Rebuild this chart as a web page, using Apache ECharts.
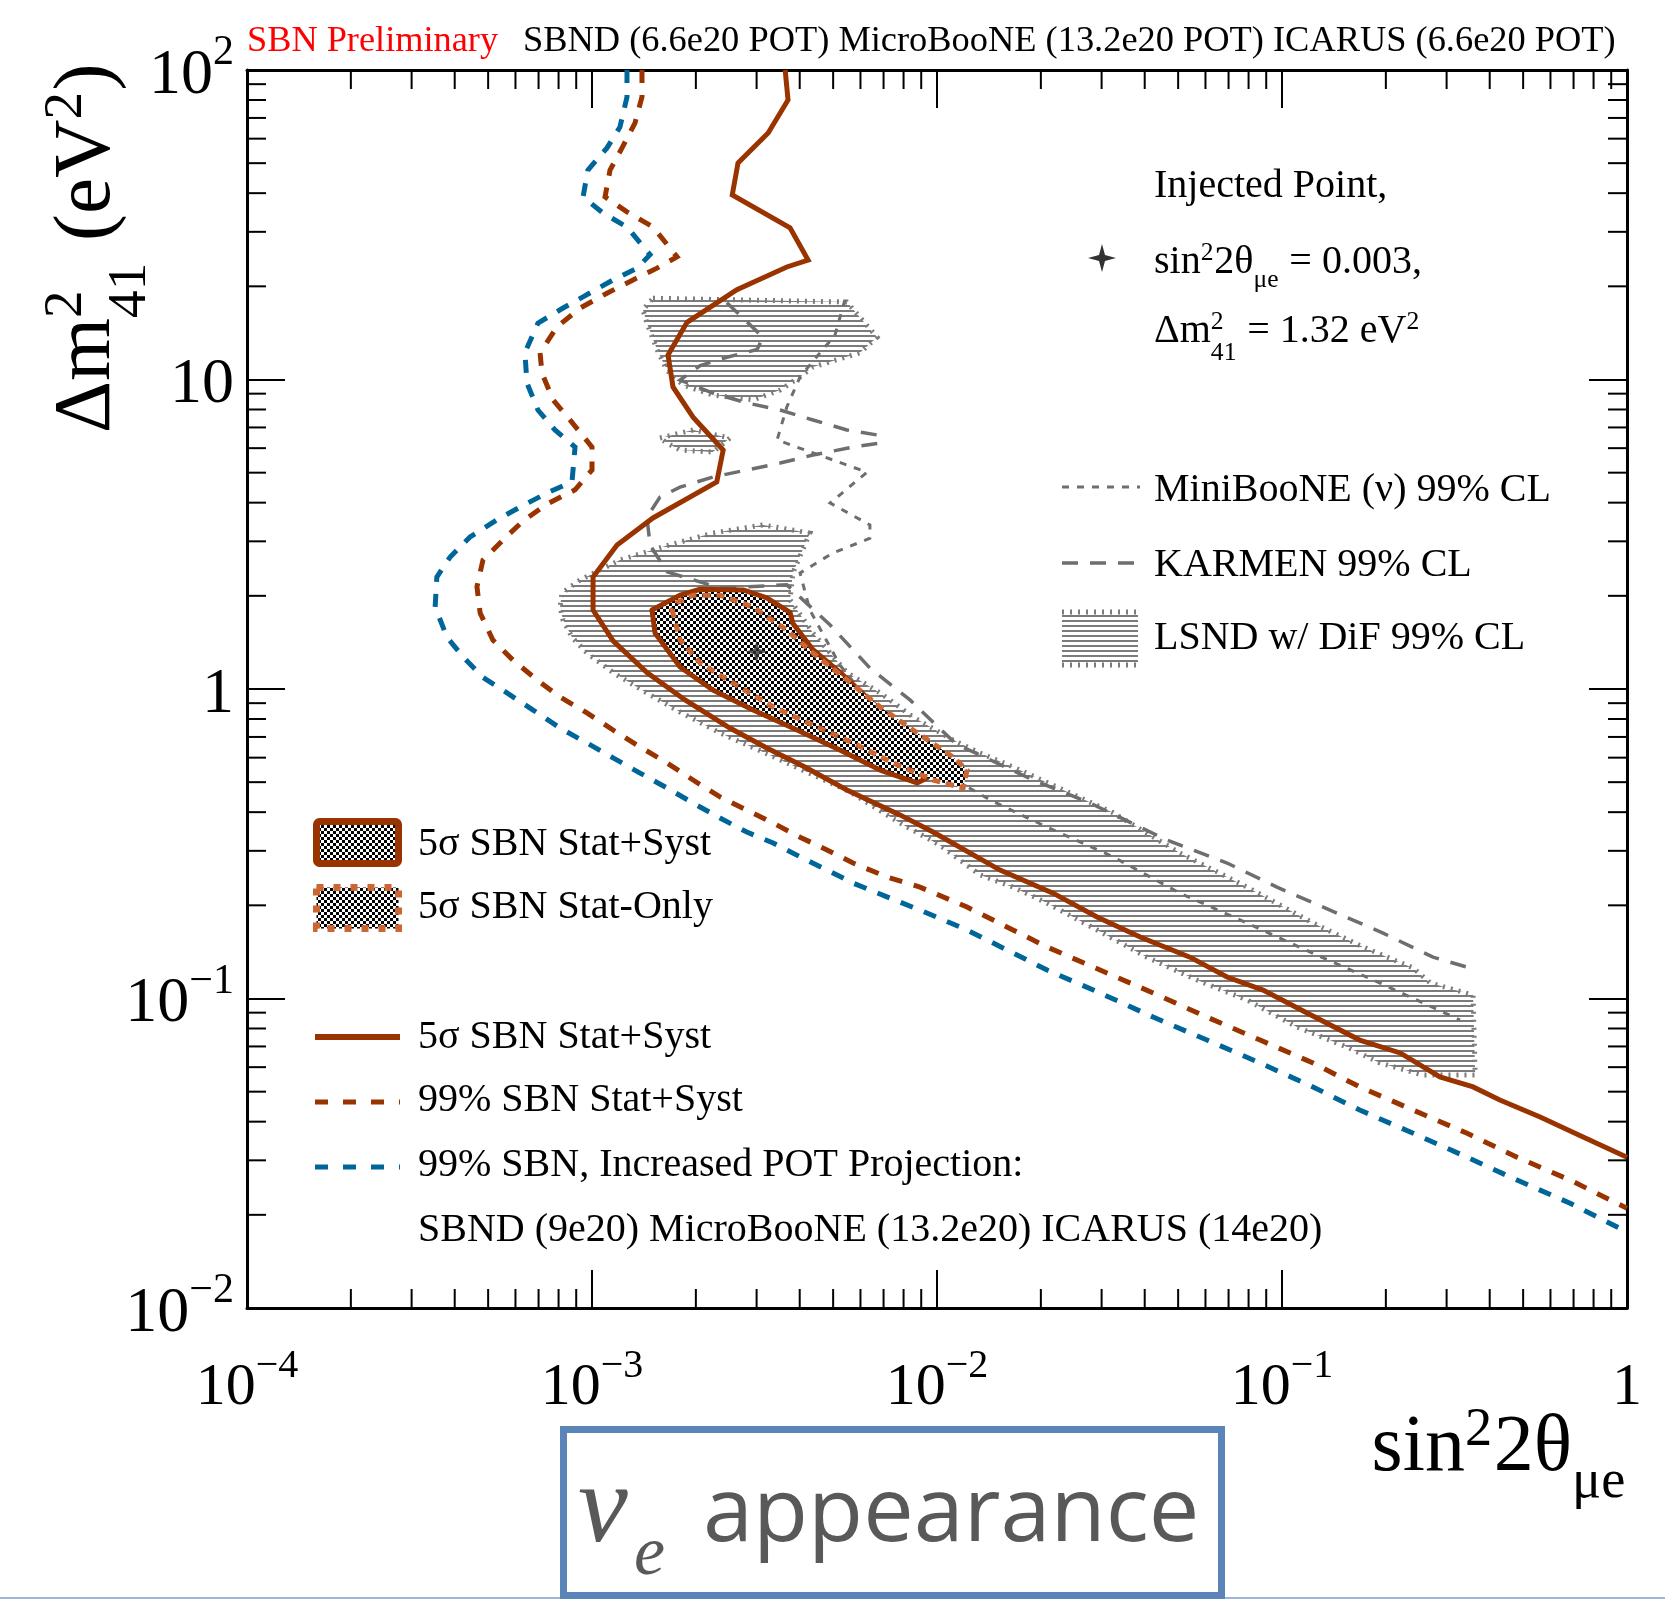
<!DOCTYPE html>
<html><head><meta charset="utf-8">
<script src="https://cdn.jsdelivr.net/npm/echarts@6/dist/echarts.min.js"></script>
<style>html,body{margin:0;padding:0;background:#fff;}#c{width:1665px;height:1599px;}</style>
</head><body><div id="c"></div>
<script>
const SERIF = "'Liberation Serif','Times New Roman',serif";
const BROWN = '#993300', ORANGE = '#cc6633', BLUE = '#006699', GRAY = '#6e6e6e', HGRAY = '#7b7b7b';

// ---------------- data (sin^2 2theta, dm^2) ----------------
const blue99Increased = [[1.263e-3,100],[1.263e-3,81.8],[1.205e-3,65.4],[1.105e-3,56.0],[9.73e-4,47.5],[9.42e-4,38.9],[1.076e-3,34.5],[1.263e-3,31.1],[1.473e-3,25.3],[1.351e-3,22.9],[1.151e-3,20.97],[9.42e-4,18.5],[8.08e-4,16.8],[6.97e-4,15.2],[6.39e-4,12.2],[6.48e-4,9.74],[6.97e-4,7.97],[7.81e-4,6.87],[8.93e-4,6.05],[8.75e-4,4.67],[7.41e-4,4.30],[6.18e-4,3.87],[5.30e-4,3.52],[4.43e-4,3.10],[3.88e-4,2.67],[3.55e-4,2.30],[3.51e-4,1.84],[3.80e-4,1.47],[4.23e-4,1.27],[4.83e-4,1.09],[5.67e-4,0.971],[6.75e-4,0.855],[8.08e-4,0.748],[9.67e-4,0.669],[1.151e-3,0.599],[1.378e-3,0.535],[1.650e-3,0.479],[1.963e-3,0.428],[2.35e-3,0.383],[2.81e-3,0.345],[3.35e-3,0.318],[4.01e-3,0.287],[4.80e-3,0.260],[5.71e-3,0.236],[7.16e-3,0.213],[8.93e-3,0.193],[1.222e-2,0.1665],[2.084e-2,0.1236],[2.97e-2,0.1042],[4.23e-2,0.0871],[6.06e-2,0.0734],[8.64e-2,0.0619],[0.123,0.0518],[0.168,0.0436],[0.240,0.0367],[0.344,0.0307],[0.480,0.0259],[0.684,0.0218],[1,0.0176]];

const brown99StatSyst = [[1.396e-3,100],[1.396e-3,81.8],[1.332e-3,67.4],[1.222e-3,56.0],[1.128e-3,47.5],[1.091e-3,38.9],[1.263e-3,34.8],[1.502e-3,31.1],[1.764e-3,24.9],[1.543e-3,22.9],[1.315e-3,20.97],[1.105e-3,19.0],[9.23e-4,17.0],[7.92e-4,14.8],[7.07e-4,12.2],[7.16e-4,10.5],[7.71e-4,8.59],[8.63e-4,7.40],[1.0e-3,6.05],[1.0e-3,5.10],[8.93e-4,4.40],[7.41e-4,3.96],[6.31e-4,3.49],[5.52e-4,3.03],[4.83e-4,2.61],[4.64e-4,2.14],[4.74e-4,1.76],[5.16e-4,1.44],[5.90e-4,1.24],[6.93e-4,1.07],[8.08e-4,0.942],[9.67e-4,0.837],[1.151e-3,0.737],[1.378e-3,0.650],[1.650e-3,0.577],[1.963e-3,0.508],[2.35e-3,0.448],[2.81e-3,0.406],[3.35e-3,0.369],[4.01e-3,0.332],[4.80e-3,0.302],[5.71e-3,0.274],[7.16e-3,0.247],[8.93e-3,0.229],[1.222e-2,0.1975],[2.084e-2,0.1467],[2.97e-2,0.1236],[4.23e-2,0.1042],[6.06e-2,0.0871],[8.64e-2,0.0734],[0.123,0.0619],[0.168,0.0518],[0.240,0.0436],[0.344,0.0367],[0.480,0.0307],[0.684,0.0259],[1,0.0210]];

const solid5sigma = [[3.63e-3,100],[3.70e-3,80.0],[3.24e-3,62.6],[2.65e-3,50.1],[2.55e-3,39.5],[3.75e-3,30.9],[4.23e-3,24.3],[3.67e-3,23.1],[2.63e-3,19.5],[1.886e-3,15.3],[1.661e-3,12.0],[1.717e-3,9.46],[1.963e-3,7.56],[2.40e-3,5.92],[2.30e-3,4.67],[1.502e-3,3.57],[1.182e-3,2.92],[1.007e-3,2.30],[1.007e-3,1.80],[1.151e-3,1.43],[1.443e-3,1.13],[1.861e-3,0.922],[2.51e-3,0.748],[3.21e-3,0.645],[4.14e-3,0.560],[5.48e-3,0.472],[7.81e-3,0.392],[9.74e-3,0.345],[1.523e-2,0.260],[2.17e-2,0.219],[2.91e-2,0.1834],[3.88e-2,0.158],[5.41e-2,0.136],[6.93e-2,0.1173],[8.81e-2,0.1065],[0.1182,0.0898],[0.168,0.0734],[0.220,0.0667],[0.287,0.0558],[0.358,0.0518],[0.428,0.0470],[0.560,0.0414],[0.746,0.0357],[1,0.0307]];

const region5sigmaSyst = [[1.492e-3,1.80],[1.523e-3,1.517],[1.80e-3,1.178],[2.24e-3,0.993],[2.93e-3,0.855],[3.93e-3,0.737],[5.23e-3,0.635],[6.84e-3,0.547],[8.75e-3,0.497],[9.35e-3,0.516],[8.08e-3,0.710],[6.61e-3,0.888],[5.34e-3,1.11],[4.37e-3,1.34],[3.82e-3,1.63],[3.75e-3,1.77],[3.21e-3,1.97],[2.74e-3,2.09],[2.06e-3,2.10],[1.80e-3,2.01]];

const region5sigmaStat = [[1.706e-3,1.80],[1.80e-3,1.44],[2.06e-3,1.213],[2.56e-3,1.046],[3.35e-3,0.875],[4.37e-3,0.765],[5.71e-3,0.669],[7.46e-3,0.577],[9.74e-3,0.508],[1.190e-2,0.479],[1.222e-2,0.547],[1.113e-2,0.603],[8.52e-3,0.737],[6.84e-3,0.875],[5.48e-3,1.07],[4.37e-3,1.307],[3.67e-3,1.55],[2.93e-3,1.84],[2.35e-3,2.01],[1.963e-3,2.01],[1.764e-3,1.90]];

const lsndIsland1 = [[1.502e-3,18.3],[5.48e-3,17.8],[6.70e-3,13.7],[5.98e-3,12.2],[4.37e-3,10.98],[4.01e-3,10.2],[3.51e-3,9.25],[2.93e-3,8.59],[2.24e-3,8.91],[1.836e-3,9.60],[1.650e-3,10.7],[1.543e-3,12.5],[1.443e-3,15.2],[1.405e-3,16.8]];
const lsndIsland2 = [[1.574e-3,6.47],[1.963e-3,6.87],[2.51e-3,6.47],[2.24e-3,5.83],[1.80e-3,5.92],[1.650e-3,6.23]];
const lsndMain = [[4.28e-3,3.19],[3.13e-3,3.39],[2.24e-3,3.19],[1.606e-3,2.88],[1.205e-3,2.61],[9.23e-4,2.25],[8.18e-4,2.04],[8.08e-4,1.84],[8.24e-4,1.67],[8.75e-4,1.47],[9.67e-4,1.307],[1.151e-3,1.13],[1.443e-3,0.971],[1.80e-3,0.843],[2.35e-3,0.721],[3.13e-3,0.626],[4.20e-3,0.539],[5.60e-3,0.465],[7.81e-3,0.369],[1.020e-2,0.313],[1.332e-2,0.251],[1.661e-2,0.229],[2.084e-2,0.2035],[2.91e-2,0.1665],[4.06e-2,0.136],[5.67e-2,0.1147],[7.92e-2,0.0989],[0.1105,0.0809],[0.1543,0.0697],[0.1924,0.0619],[0.256,0.0566],[0.363,0.0566],[0.358,0.1026],[0.269,0.1122],[0.240,0.1255],[0.1717,0.1467],[0.123,0.1753],[7.92e-2,0.229],[5.06e-2,0.295],[3.24e-2,0.398],[2.32e-2,0.472],[1.661e-2,0.560],[1.332e-2,0.621],[1.113e-2,0.684],[8.52e-3,0.812],[6.84e-3,0.971],[5.48e-3,1.13],[4.37e-3,1.517],[3.75e-3,1.94],[3.82e-3,2.37]];

const miniBooNE = [[5.41e-3,18.1],[5.06e-3,13.9],[4.58e-3,12.2],[4.01e-3,10.2],[3.67e-3,8.15],[3.44e-3,6.38],[4.37e-3,5.79],[6.27e-3,5.02],[4.90e-3,3.99],[6.39e-3,3.39],[6.39e-3,3.07],[4.99e-3,2.75],[4.01e-3,2.37],[4.28e-3,1.80],[5.23e-3,1.195],[6.84e-3,0.824],[9.54e-3,0.568],[1.424e-2,0.438],[2.084e-2,0.358],[3.24e-2,0.287],[5.06e-2,0.219],[7.92e-2,0.1753],[0.123,0.140],[0.1924,0.1122],[0.328,0.0852]];

const karmen = [[2.46e-3,17.7],[3.13e-3,13.7],[3.01e-3,12.5],[2.46e-3,11.8],[2.06e-3,11.1],[1.80e-3,9.96],[2.24e-3,9.04],[2.81e-3,8.40],[3.51e-3,7.97],[4.37e-3,7.40],[5.48e-3,6.87],[6.70e-3,6.62],[6.84e-3,6.23],[5.71e-3,6.05],[4.37e-3,5.70],[3.51e-3,5.37],[2.81e-3,5.10],[2.24e-3,4.84],[1.80e-3,4.49],[1.574e-3,4.17],[1.443e-3,3.59],[1.473e-3,2.92],[1.650e-3,2.39],[2.35e-3,2.12],[3.67e-3,2.17],[4.90e-3,1.61],[6.39e-3,1.169],[8.35e-3,0.922],[1.135e-2,0.664],[1.332e-2,0.612],[1.898e-2,0.508],[2.78e-2,0.428],[4.64e-2,0.325],[6.93e-2,0.274],[9.67e-2,0.229],[0.1378,0.193],[0.1963,0.1627],[0.274,0.136],[0.351,0.1255]];

const injectedPoint = [[0.003, 1.32]];

// axis ranges / ticks
const X_MIN = 1e-4, X_MAX = 1, Y_MIN = 1e-2, Y_MAX = 1e2;
const xDecades = [-4, -3, -2, -1];
const yDecades = [-2, -1, 0, 1];
const minorMultipliers = [2, 3, 4, 5, 6, 7, 8, 9];

// ---------------- helpers ----------------
const mctx = document.createElement('canvas').getContext('2d');
function tw(text, size) { mctx.font = size + 'px ' + SERIF; return mctx.measureText(text).width; }
function mathRow(tokens, F, color, k, supY, subY) {
  const kids = []; let x = 0; const s = F * k;
  tokens.forEach(tk => {
    if (tk.t !== undefined) {
      kids.push({type: 'text', x: x, y: -0.32 * F, style: {text: tk.t, font: F + 'px ' + SERIF, fill: color, align: 'left', verticalAlign: 'middle'}});
      x += tw(tk.t, F);
    } else {
      let w = 0;
      if (tk.sup) { kids.push({type: 'text', x: x, y: -supY * F, style: {text: tk.sup, font: s + 'px ' + SERIF, fill: color, align: 'left', verticalAlign: 'middle'}}); w = Math.max(w, tw(tk.sup, s)); }
      if (tk.sub) { const sy = (tk.subY !== undefined ? tk.subY : subY); kids.push({type: 'text', x: x, y: sy * F, style: {text: tk.sub, font: s + 'px ' + SERIF, fill: color, align: 'left', verticalAlign: 'middle'}}); w = Math.max(w, tw(tk.sub, s)); }
      x += w + F * 0.02;
    }
  });
  return {kids: kids, width: x};
}
function hatchCanvas() { const c = document.createElement('canvas'); c.width = 10; c.height = 5; const g = c.getContext('2d'); g.fillStyle = HGRAY; g.fillRect(0, 0, 10, 2); return c; }
function checkerCanvas() { const c = document.createElement('canvas'); c.width = 6; c.height = 6; const g = c.getContext('2d'); g.fillStyle = '#fff'; g.fillRect(0, 0, 6, 6); g.fillStyle = '#000'; g.fillRect(0, 0, 3, 3); g.fillRect(3, 3, 3, 3); return c; }
const hatchFill = {image: hatchCanvas(), repeat: 'repeat'};
const checkerFill = {image: checkerCanvas(), repeat: 'repeat'};
const LSND_BORDER = {stroke: HGRAY, lineWidth: 5, lineDash: [2, 6]};

function tickFmt(v) {
  const e = Math.round(Math.log10(v));
  if (e === 0) return '{b|1}';
  if (e === 1) return '{b|10}';
  return '{b|10}{s|' + (e < 0 ? '\u2212' + (-e) : e) + '}';
}
const xRich = {b: {fontFamily: SERIF, fontSize: 60, lineHeight: 72, color: '#000', verticalAlign: 'bottom'}, s: {fontFamily: SERIF, fontSize: 40, lineHeight: 32, color: '#000', verticalAlign: 'top'}};
const yRich = {b: {fontFamily: SERIF, fontSize: 64, lineHeight: 76, color: '#000', verticalAlign: 'bottom'}, s: {fontFamily: SERIF, fontSize: 42, lineHeight: 34, color: '#000', verticalAlign: 'top'}};

const axisLine = {show: true, onZero: false, lineStyle: {color: '#000', width: 3}};
const axisTick = {show: true, inside: true, length: 38, lineStyle: {color: '#000', width: 2}};

// minor tick items
const minorData = [];
xDecades.forEach(e => minorMultipliers.forEach(m => minorData.push([m * Math.pow(10, e), Y_MIN, 0])));
yDecades.forEach(e => minorMultipliers.forEach(m => minorData.push([X_MIN, m * Math.pow(10, e), 1])));

const lsndPolys = [lsndMain, lsndIsland1, lsndIsland2];
const regionPolys = [region5sigmaSyst, region5sigmaStat];

function lineSeries(name, data, color, width, dash, z) {
  return {name: name, type: 'line', data: data, showSymbol: false, symbol: 'none', silent: true, clip: true, z: z,
    lineStyle: {color: color, width: width, type: dash || 'solid', cap: 'butt', join: 'miter'}};
}

// ---------------- graphic (texts & legends) ----------------
const graphics = [];
const T = (x, y, text, size, color) => ({type: 'text', x: x, y: y, z: 100,
  style: {text: text, font: size + 'px ' + SERIF, fill: color || '#000', align: 'left', verticalAlign: 'middle'}});

graphics.push(T(247, 41, 'SBN Preliminary', 36.3, '#ff0000'));
graphics.push(T(523, 41, 'SBND (6.6e20 POT) MicroBooNE (13.2e20 POT) ICARUS (6.6e20 POT)', 36.4, '#000'));

// y-axis title (rotated)
const yTitle = mathRow([{t: '\u0394m'}, {sup: '2', sub: '41'}, {t: ' (eV'}, {sup: '2'}, {t: ')'}], 81, '#000', 0.68, 0.58, 0.2);
graphics.push({type: 'group', x: 114, y: 433, rotation: Math.PI / 2, z: 100, children: yTitle.kids});
// x-axis title
const xTitle = mathRow([{t: 'sin'}, {sup: '2'}, {t: '2\u03b8'}, {sub: '\u03bce'}], 80, '#000', 0.68, 0.55, 0.1);
graphics.push({type: 'group', x: 1627 - xTitle.width, y: 1475, z: 100, children: xTitle.kids});

// injected point legend
graphics.push(T(1154, 186, 'Injected Point,', 40));
graphics.push({type: 'polygon', x: 1102, y: 258, z: 100, shape: {points: [[0,-14],[3,-3],[14,0],[3,3],[0,14],[-3,3],[-14,0],[-3,-3]]}, style: {fill: '#333'}});
const m1 = mathRow([{t: 'sin'}, {sup: '2'}, {t: '2\u03b8'}, {sub: '\u03bce'}, {t: ' = 0.003,'}], 40, '#000', 0.64, 0.55, 0.12);
graphics.push({type: 'group', x: 1154, y: 275, z: 100, children: m1.kids});
const m2 = mathRow([{t: '\u0394m'}, {sup: '2', sub: '41', subY: 0.22}, {t: ' = 1.32 eV'}, {sup: '2'}], 40, '#000', 0.64, 0.55, 0.2);
graphics.push({type: 'group', x: 1154, y: 344, z: 100, children: m2.kids});

// MiniBooNE / KARMEN / LSND legend
graphics.push({type: 'line', z: 100, shape: {x1: 1062, y1: 487, x2: 1140, y2: 487}, style: {stroke: GRAY, lineWidth: 3, lineDash: [7, 8]}});
graphics.push(T(1154, 490, 'MiniBooNE (\u03bd) 99% CL', 40));
graphics.push({type: 'line', z: 100, shape: {x1: 1062, y1: 563, x2: 1140, y2: 563}, style: {stroke: GRAY, lineWidth: 3.5, lineDash: [16, 12]}});
graphics.push(T(1154, 565, 'KARMEN 99% CL', 40));
graphics.push({type: 'rect', z: 100, shape: {x: 1062, y: 612, width: 76, height: 53}, style: {fill: hatchFill}});
graphics.push({type: 'line', z: 100, shape: {x1: 1062, y1: 612, x2: 1138, y2: 612}, style: LSND_BORDER});
graphics.push({type: 'line', z: 100, shape: {x1: 1062, y1: 665, x2: 1138, y2: 665}, style: LSND_BORDER});
graphics.push(T(1154, 638, 'LSND w/ DiF 99% CL', 40));

// left legend
graphics.push({type: 'rect', z: 100, shape: {x: 316.5, y: 821.5, width: 82, height: 42, r: 3}, style: {fill: checkerFill, stroke: BROWN, lineWidth: 7}});
graphics.push(T(418, 844, '5\u03c3 SBN Stat+Syst', 40));
graphics.push({type: 'rect', z: 100, shape: {x: 316.5, y: 887.5, width: 82, height: 41}, style: {fill: checkerFill, stroke: ORANGE, lineWidth: 7, lineDash: [7, 10]}});
graphics.push(T(418, 907, '5\u03c3 SBN Stat-Only', 40));
graphics.push({type: 'line', z: 100, shape: {x1: 315, y1: 1037, x2: 400, y2: 1037}, style: {stroke: BROWN, lineWidth: 6}});
graphics.push(T(418, 1037, '5\u03c3 SBN Stat+Syst', 40));
graphics.push({type: 'line', z: 100, shape: {x1: 315, y1: 1102, x2: 400, y2: 1102}, style: {stroke: BROWN, lineWidth: 5, lineDash: [13, 15]}});
graphics.push(T(418, 1100, '99% SBN Stat+Syst', 40));
graphics.push({type: 'line', z: 100, shape: {x1: 315, y1: 1167, x2: 400, y2: 1167}, style: {stroke: BLUE, lineWidth: 5, lineDash: [13, 15]}});
graphics.push(T(418, 1165, '99% SBN, Increased POT Projection:', 40));
graphics.push(T(418, 1230, 'SBND (9e20) MicroBooNE (13.2e20) ICARUS (14e20)', 40));

// bottom box
graphics.push({type: 'line', z: 90, shape: {x1: 0, y1: 1598, x2: 1665, y2: 1598}, style: {stroke: '#9db6d8', lineWidth: 2}});
graphics.push({type: 'rect', z: 100, shape: {x: 563.5, y: 1429.5, width: 658, height: 166}, style: {fill: '#fff', stroke: '#5b84b8', lineWidth: 7}});
graphics.push({type: 'text', x: 578, y: 1512, z: 101, style: {text: '\u03bd', font: 'italic 112px "Liberation Serif", serif', fill: '#595959', align: 'left', verticalAlign: 'middle'}});
graphics.push({type: 'text', x: 634, y: 1556, z: 101, style: {text: 'e', font: 'italic 70px "Liberation Serif", serif', fill: '#595959', align: 'left', verticalAlign: 'middle'}});
graphics.push({type: 'text', x: 703, y: 1515, z: 101, style: {text: 'appearance', font: '90px "Open Sans", "DejaVu Sans", sans-serif', fill: '#595959', align: 'left', verticalAlign: 'middle'}});

// ---------------- option ----------------
const option = {
  animation: false,
  backgroundColor: '#fff',
  grid: {left: 247, top: 70, width: 1380, height: 1238, containLabel: false},
  xAxis: [
    {type: 'log', logBase: 10, min: X_MIN, max: X_MAX, position: 'bottom', axisLine: axisLine, axisTick: axisTick, splitLine: {show: false},
      axisLabel: {margin: 38, formatter: tickFmt, rich: xRich}},
    {type: 'log', logBase: 10, min: X_MIN, max: X_MAX, position: 'top', axisLine: axisLine, axisTick: axisTick, splitLine: {show: false}, axisLabel: {show: false}}
  ],
  yAxis: [
    {type: 'log', logBase: 10, min: Y_MIN, max: Y_MAX, position: 'left', axisLine: axisLine, axisTick: axisTick, splitLine: {show: false},
      axisLabel: {margin: 13, formatter: tickFmt, rich: yRich}},
    {type: 'log', logBase: 10, min: Y_MIN, max: Y_MAX, position: 'right', axisLine: axisLine, axisTick: axisTick, splitLine: {show: false}, axisLabel: {show: false}}
  ],
  series: [
    {type: 'custom', name: 'LSND', coordinateSystem: 'cartesian2d', silent: true, clip: true, z: 2,
      data: lsndPolys.map((p, i) => [p[0][0], p[0][1], i]), encode: {x: 0, y: 1},
      renderItem: function (params, api) {
        const poly = lsndPolys[api.value(2)];
        return {type: 'polygon', shape: {points: poly.map(p => api.coord(p))},
          style: Object.assign({fill: hatchFill}, LSND_BORDER)};
      }},
    lineSeries('KARMEN', karmen, GRAY, 3.5, [16, 12], 3),
    lineSeries('MiniBooNE', miniBooNE, GRAY, 3, [7, 8], 3),
    {type: 'custom', name: '5sigma regions', coordinateSystem: 'cartesian2d', silent: true, clip: true, z: 4,
      data: regionPolys.map((p, i) => [p[0][0], p[0][1], i]), encode: {x: 0, y: 1},
      renderItem: function (params, api) {
        const i = api.value(2);
        const pts = regionPolys[i].map(p => api.coord(p));
        const st = i === 0 ? {fill: checkerFill, stroke: BROWN, lineWidth: 5, lineJoin: 'round'}
                           : {fill: checkerFill, stroke: ORANGE, lineWidth: 5, lineDash: [8, 6]};
        return {type: 'polygon', shape: {points: pts}, style: st};
      }},
    lineSeries('99% SBN Stat+Syst', brown99StatSyst, BROWN, 5, [13, 12], 5),
    lineSeries('99% SBN Increased POT', blue99Increased, BLUE, 5, [13, 12], 5),
    lineSeries('5sigma SBN Stat+Syst', solid5sigma, BROWN, 5, 'solid', 5),
    {type: 'scatter', name: 'Injected Point', data: injectedPoint, z: 6, silent: true,
      symbol: 'path://M0,-10 L2.4,-2.4 L10,0 L2.4,2.4 L0,10 L-2.4,2.4 L-10,0 L-2.4,-2.4 Z', symbolSize: 22,
      itemStyle: {color: '#333'}},
    {type: 'custom', name: 'minor ticks', coordinateSystem: 'cartesian2d', silent: true, clip: false, z: 10,
      data: minorData, encode: {x: 0, y: 1},
      renderItem: function (params, api) {
        const kind = api.value(2);
        const ls = {stroke: '#000', lineWidth: 2};
        if (kind === 0) {
          const v = api.value(0);
          const pb = api.coord([v, Y_MIN]), pt = api.coord([v, Y_MAX]);
          return {type: 'group', children: [
            {type: 'line', shape: {x1: pb[0], y1: pb[1], x2: pb[0], y2: pb[1] - 19}, style: ls},
            {type: 'line', shape: {x1: pt[0], y1: pt[1], x2: pt[0], y2: pt[1] + 19}, style: ls}]};
        }
        const v = api.value(1);
        const pl = api.coord([X_MIN, v]), pr = api.coord([X_MAX, v]);
        return {type: 'group', children: [
          {type: 'line', shape: {x1: pl[0], y1: pl[1], x2: pl[0] + 19, y2: pl[1]}, style: ls},
          {type: 'line', shape: {x1: pr[0], y1: pr[1], x2: pr[0] - 19, y2: pr[1]}, style: ls}]};
      }}
  ],
  graphic: graphics
};
const chart = echarts.init(document.getElementById('c'), null, {renderer: 'canvas', width: 1665, height: 1599});
chart.setOption(option);
</script>
</body></html>
